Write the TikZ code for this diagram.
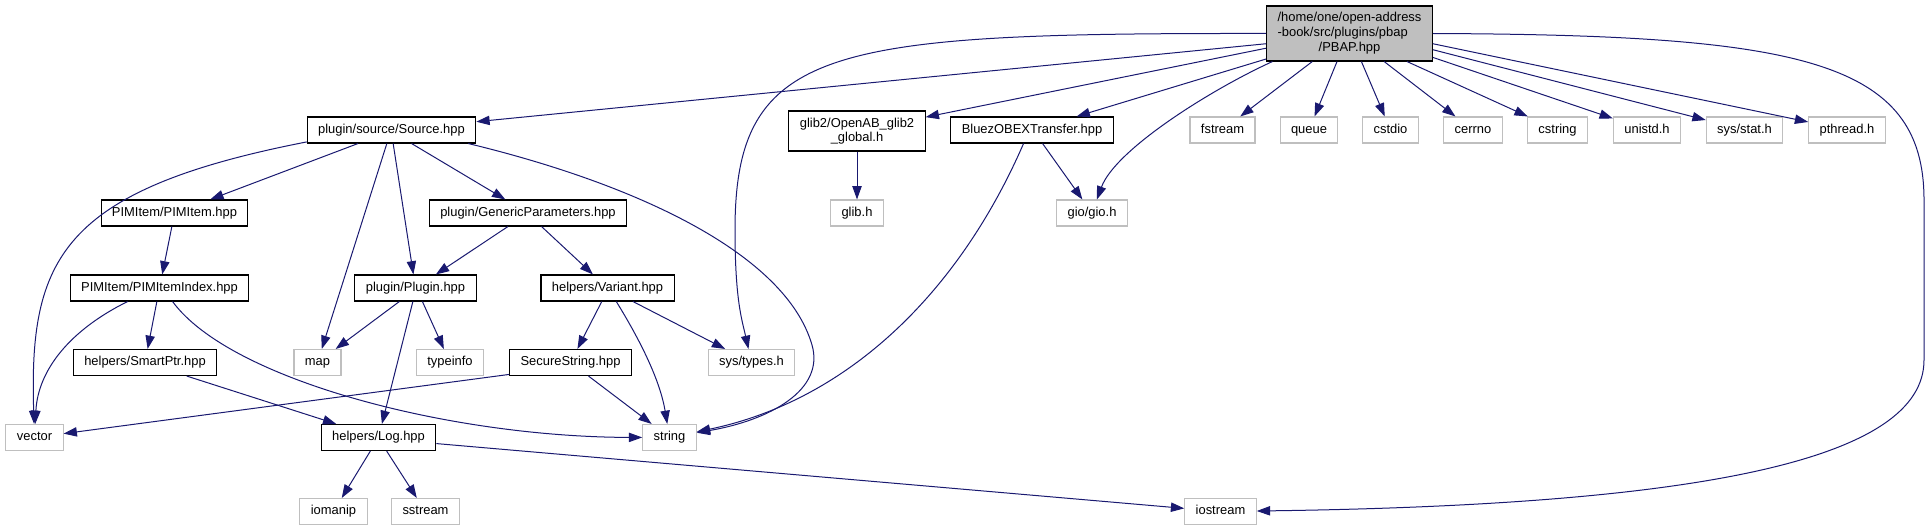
\documentclass[tikz,border=0pt]{standalone}
\usepackage{fontspec}
\setmainfont{Liberation Sans}
\usepackage{tikz}
\usetikzlibrary{arrows.meta}
\definecolor{EdgeBlue}{HTML}{191970}
\definecolor{SysGray}{HTML}{BFBFBF}
\definecolor{HeadGray}{HTML}{BFBFBF}

\begin{document}
\begin{tikzpicture}[x=0.75pt,y=0.75pt,>={Triangle[length=10pt,width=7pt]},font=\fontsize{9.7}{11}\selectfont,
  base/.style={draw=black,line width=0.8pt,fill=white,inner xsep=8.2pt,inner ysep=0pt},
  box/.style={base,minimum height=19.5pt,text height=7.2pt,text depth=2.1pt},
  sys/.style={box,draw=SysGray},
  dep/.style={->,draw=EdgeBlue,line width=0.75pt}]
  \useasboundingbox (0,0) rectangle (1931,-531);
  % top file
  \node[base,fill=HeadGray,minimum height=41.25pt] (pbap) at (1349.5,-33.5) {\begin{tabular}{@{}l@{}}/home/one/open-address\\-book/src/plugins/pbap\\\multicolumn{1}{@{}c@{}}{/PBAP.hpp}\end{tabular}};
  % row 1
  \node[box] (src) at (391.5,-130) {plugin/source/Source.hpp};
  \node[base,align=center,minimum height=30pt] (glib) at (857,-131) {glib2/OpenAB\_glib2\\\_global.h};
  \node[box] (bluez) at (1032,-130) {BluezOBEXTransfer.hpp};
  \node[sys] (fstream) at (1222.5,-130) {fstream};
  \node[sys] (queue) at (1309,-130) {queue};
  \node[sys] (cstdio) at (1390.5,-130) {cstdio};
  \node[sys] (cerrno) at (1473,-130) {cerrno};
  \node[sys] (cstring) at (1557.5,-130) {cstring};
  \node[sys] (unistd) at (1647,-130) {unistd.h};
  \node[sys] (sysstat) at (1744.5,-130) {sys/stat.h};
  \node[sys] (pthread) at (1847,-130) {pthread.h};
  % row 2
  \node[box] (pim) at (174.5,-213) {PIMItem/PIMItem.hpp};
  \node[box] (gparams) at (528,-213) {plugin/GenericParameters.hpp};
  \node[sys] (glibh) at (857,-213) {glib.h};
  \node[sys] (gio) at (1092,-213) {gio/gio.h};
  % row 3
  \node[box] (pimidx) at (159.5,-288) {PIMItem/PIMItemIndex.hpp};
  \node[box] (plug) at (415.5,-288) {plugin/Plugin.hpp};
  \node[box] (variant) at (607.5,-288) {helpers/Variant.hpp};
  % row 4
  \node[box] (smart) at (145,-362.5) {helpers/SmartPtr.hpp};
  \node[sys] (map) at (317.5,-362.5) {map};
  \node[sys] (tinfo) at (450,-362.5) {typeinfo};
  \node[box] (secstr) at (570.5,-362.5) {SecureString.hpp};
  \node[sys] (systypes) at (751.5,-362.5) {sys/types.h};
  % row 5
  \node[sys] (vec) at (34.5,-437.5) {vector};
  \node[box] (log) at (378.5,-437.5) {helpers/Log.hpp};
  \node[sys] (str) at (669.5,-437.5) {string};
  % row 6
  \node[sys] (iomanip) at (333.5,-511.5) {iomanip};
  \node[sys] (sstream) at (425.5,-511.5) {sstream};
  \node[sys] (iostream) at (1220.5,-511.5) {iostream};
  % includes of PBAP.hpp
  \draw[dep] (pbap.187) -- (src);
  \draw[dep] (pbap.west) .. controls (830,-33) and (735,-45) .. (735,-230) .. controls (735,-300) and (742,-320) .. (systypes);
  \draw[dep] (pbap.190) -- (glib);
  \draw[dep] (pbap.197) -- (bluez);
  \draw[dep] (pbap.200) .. controls (1210,-90) and (1115,-150) .. (gio);
  \draw[dep] (pbap.217) -- (fstream);
  \draw[dep] (pbap.246) -- (queue);
  \draw[dep] (pbap.293) -- (cstdio);
  \draw[dep] (pbap.321) -- (cerrno);
  \draw[dep] (pbap.334) -- (cstring);
  \draw[dep] (pbap.344) -- (unistd);
  \draw[dep] (pbap.349) -- (sysstat);
  \draw[dep] (pbap.353) -- (pthread);
  \draw[dep] (pbap.east) .. controls (1800,-35) and (1924,-60) .. (1924,-200) -- (1924,-360) .. controls (1924,-460) and (1700,-505) .. (iostream);
  % second level
  \draw[dep] (glib) -- (glibh);
  \draw[dep] (bluez.308) -- (gio);
  \draw[dep] (bluez.238) .. controls (960,-290) and (850,-400) .. (str);
  \draw[dep] (src.188) .. controls (60,-190) and (29,-260) .. (vec);
  \draw[dep] (src.202) -- (pim);
  \draw[dep] (src.251) -- (map);
  \draw[dep] (src.277) -- (plug);
  \draw[dep] (src.326) -- (gparams);
  \draw[dep] (src.350) .. controls (640,-185) and (786,-255) .. (812,-345) .. controls (825,-390) and (770,-420) .. (str);
  \draw[dep] (pim.259) -- (pimidx);
  \draw[dep] (pimidx.203) .. controls (70,-330) and (38,-370) .. (vec);
  \draw[dep] (pimidx.259) -- (smart);
  \draw[dep] (pimidx.314) .. controls (230,-380) and (450,-437) .. (str);
  \draw[dep] (gparams.214) -- (plug);
  \draw[dep] (gparams.315) -- (variant);
  \draw[dep] (plug.220) -- (map);
  \draw[dep] (plug.297) -- (tinfo);
  \draw[dep] (plug.259) -- (log);
  \draw[dep] (variant.247) -- (secstr);
  \draw[dep] (variant.303) .. controls (640,-340) and (660,-380) .. (str);
  \draw[dep] (variant.332) -- (systypes);
  \draw[dep] (smart.342) -- (log);
  \draw[dep] (secstr.191) -- (vec);
  \draw[dep] (secstr.323) -- (str);
  \draw[dep] (log.239) -- (iomanip);
  \draw[dep] (log.301) -- (sstream);
  \draw[dep] (log.354) -- (iostream);
\end{tikzpicture}
\end{document}
